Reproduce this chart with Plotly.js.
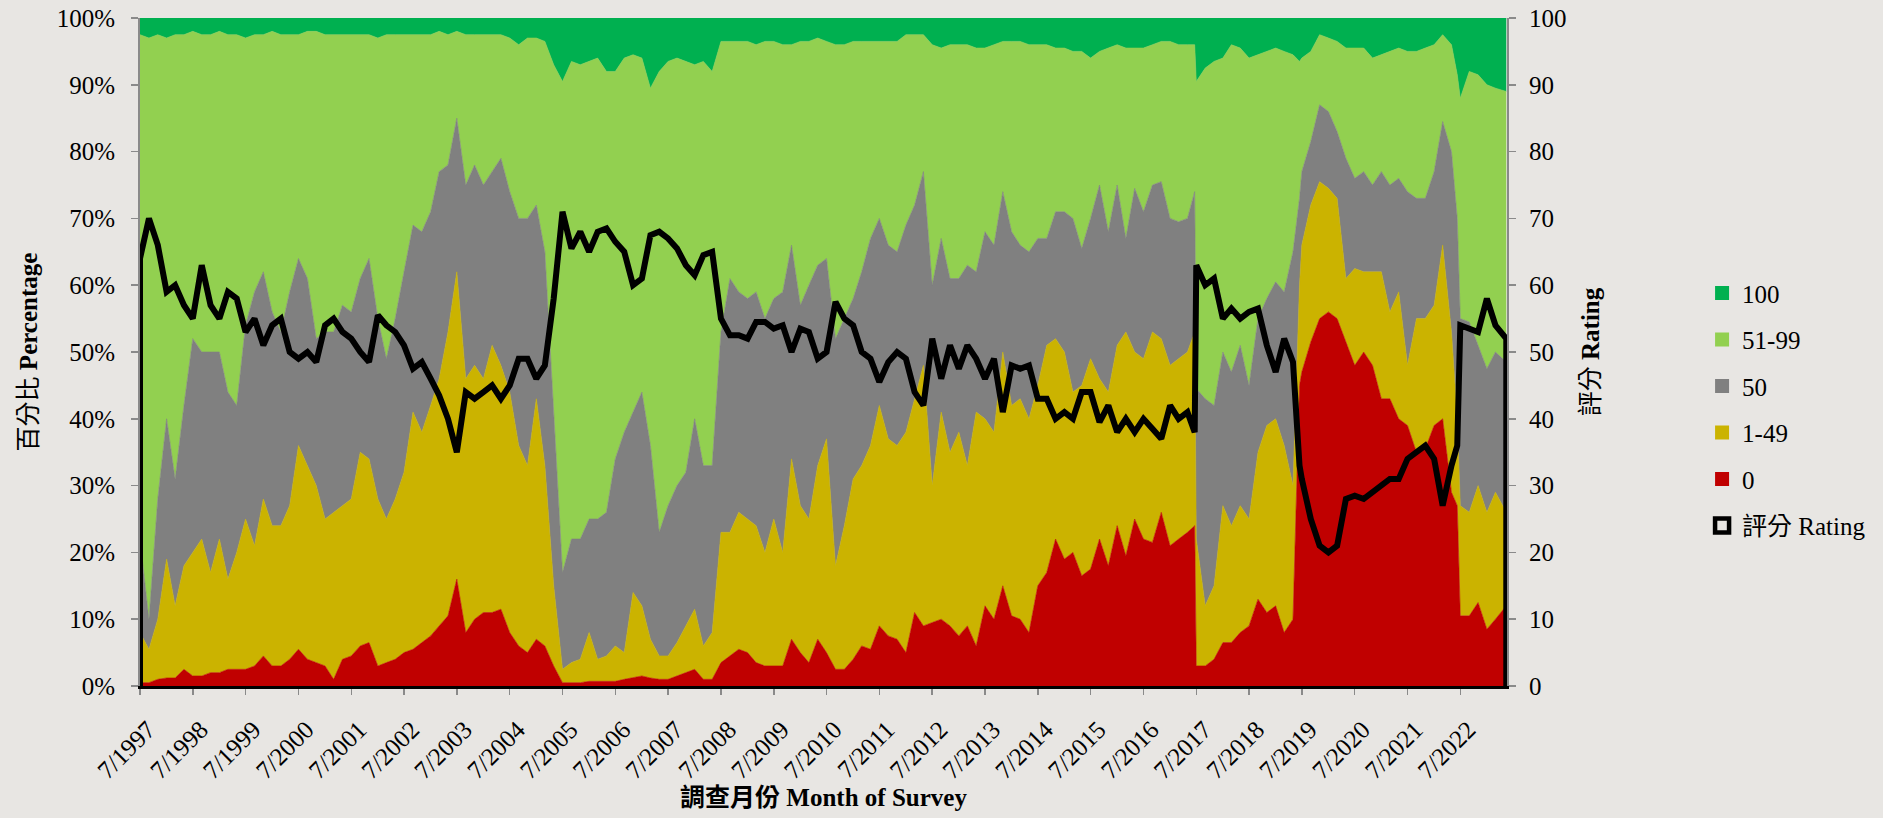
<!DOCTYPE html>
<html>
<head>
<meta charset="utf-8">
<script src="https://cdn.plot.ly/plotly-3.0.1.min.js"></script>
<style>
html,body{margin:0;padding:0;background:#e8e6e3;}
#chart{width:1883px;height:818px;}
</style>
</head>
<body>
<div id="chart"></div>
<script>
// Survey dates
const surveyDates = [
 '1997-07-01','1997-09-01','1997-11-01',
 '1998-01-01','1998-03-01','1998-05-01','1998-07-01','1998-09-01','1998-11-01',
 '1999-01-01','1999-03-01','1999-05-01','1999-07-01','1999-09-01','1999-11-01',
 '2000-01-01','2000-03-01','2000-05-01','2000-07-01','2000-09-01','2000-11-01',
 '2001-01-01','2001-03-01','2001-05-01','2001-07-01','2001-09-01','2001-11-01',
 '2002-01-01','2002-03-01','2002-05-01','2002-07-01','2002-09-01','2002-11-01',
 '2003-01-01','2003-03-01','2003-05-01','2003-07-01','2003-09-01','2003-11-01',
 '2004-01-01','2004-03-01','2004-05-01','2004-07-01','2004-09-01','2004-11-01',
 '2005-01-01','2005-03-01','2005-05-01','2005-07-01','2005-09-01','2005-11-01',
 '2006-01-01','2006-03-01','2006-05-01','2006-07-01','2006-09-01','2006-11-01',
 '2007-01-01','2007-03-01','2007-05-01','2007-07-01','2007-09-01','2007-11-01',
 '2008-01-01','2008-03-01','2008-05-01','2008-07-01','2008-09-01','2008-11-01',
 '2009-01-01','2009-03-01','2009-05-01','2009-07-01','2009-09-01','2009-11-01',
 '2010-01-01','2010-03-01','2010-05-01','2010-07-01','2010-09-01','2010-11-01',
 '2011-01-01','2011-03-01','2011-05-01','2011-07-01','2011-09-01','2011-11-01',
 '2012-01-01','2012-03-01','2012-05-01','2012-07-01','2012-09-01','2012-11-01',
 '2013-01-01','2013-03-01','2013-05-01','2013-07-01','2013-09-01','2013-11-01',
 '2014-01-01','2014-03-01','2014-05-01','2014-07-01','2014-09-01','2014-11-01',
 '2015-01-01','2015-03-01','2015-05-01','2015-07-01','2015-09-01','2015-11-01',
 '2016-01-01','2016-03-01','2016-05-01','2016-07-01','2016-09-01','2016-11-01',
 '2017-01-01','2017-03-01','2017-05-01','2017-06-20','2017-07-01','2017-09-01','2017-11-01',
 '2018-01-01','2018-03-01','2018-05-01','2018-07-01','2018-09-01','2018-11-01',
 '2019-01-01','2019-03-01','2019-05-01','2019-06-15','2019-07-01','2019-09-01','2019-11-01',
 '2020-01-01','2020-03-01','2020-05-01','2020-07-01','2020-09-01','2020-11-01',
 '2021-01-01','2021-03-01','2021-05-01','2021-07-01','2021-09-01','2021-11-01',
 '2022-01-01','2022-03-01','2022-05-01','2022-06-10','2022-07-01','2022-09-01','2022-11-01',
 '2023-01-01','2023-03-01','2023-05-15'
];

// Percentage giving score 0
const share0 = [
 0.5,0.5,1,
 1.2,1.2,2.5,1.5,1.5,2,
 2,2.5,2.5,2.5,3,4.5,
 3,3,4,5.5,4,3.5,
 3,1,4,4.5,6,6.5,
 3,3.5,4,5,5.5,6.5,
 7.5,9,10.5,16,8,10,
 11,11,11.5,8,6,5,
 7,6,3,0.5,0.5,0.5,
 0.7,0.7,0.7,0.7,1,1.3,
 1.5,1.2,1,1,1.5,2,
 2.5,1,1,3.5,4.5,5.5,
 5,3.5,3,3,3,7,
 5,3.5,7,5,2.5,2.5,
 4,6,5.5,9,7.5,7,
 5,11,9,9.5,10,9,
 7.5,9,6,12,10,15,
 10.5,10,8,15,17,22,
 19,20,16.5,17.5,22,18,
 24,19.5,25,22,21.5,26,
 21,22,23,24,3,3,4,
 6.5,6.5,8,9,13,11,
 12,8,10,45,47,51.5,55,
 56,55,51.5,48,50,48,
 43,43,40,39,35,35.5,
 39,40,29,27,10.5,10.5,12.5,
 8.5,10,12
];

// Percentage giving score 1-49
const share1to49 = [
 7.5,5,9,
 17.8,10.8,15.5,18.5,20.5,15,
 20,13.5,17.5,22.5,18,23.5,
 21,21,23,30.5,29,26.5,
 22,25,23,23.5,29,27.5,
 25,21.5,24,27,35.5,31.5,
 34.5,37,42.5,46,38,38,
 35,40,36.5,36,30,28,
 36,27,12,2,3,3.5,
 7.3,3.3,3.8,5.3,4,12.7,
 10.5,5.8,3.5,3.5,5,7,
 9,5,7,19.5,18.5,20.5,
 20,20.5,17,22,17,27,
 22,21.5,26,32,15.5,21.5,
 27,27,30.5,33,29.5,29,
 33,32,39,20.5,31,26,
 30.5,24,35,28,28,35,
 31.5,33,32,30,34,30,
 31,24,28.5,31.5,24,26,
 27,33.5,25,27,31.5,26,
 27,27,27,29,19,9,11,
 20.5,17.5,19,16,22,28,
 28,28,20,15,19,20.5,20.5,
 18.5,18,9.5,14.5,12,14,
 19,13,19,9,20,19.5,
 18,26,24,13,16.5,15.5,17.5,
 17.5,19,14
];

// Percentage giving score 50
const share50 = [
 14,4.5,18,
 21,19,24,32,28,33,
 28,28,22,29,38,34,
 32,29,32,28,28,22,
 28,27,30,28,26,30,
 27,24,27,30,28,30,
 29,31,25,23,29,30,
 29,26,31,30,34,37,
 29,32,25,14.5,18.5,18,
 17,21,21.5,28,33,27,
 32,29,18.5,22.5,23.5,23,
 28.5,27,25,30,38,33,
 33,35,35,33,39,32,
 30,35,30,27,34,31,
 27,29,31,28,29,29,
 31,29,29,30,26,26,
 23,30,21,28,28,24,
 26,23,25,22,16,19,
 21,26,20.5,21,29,24,
 24,14,24.5,22,22,23.5,
 22,20.5,20,21,22.5,31,27,
 23,23,24,20,20,19,
 20.5,23,35,13,11,9.5,11.5,
 11.5,10,18,13.5,15,13,
 15,19,17,26,18,18,
 20,18.5,27,30,28,28.5,21,
 21.5,21,22.5
];

// Percentage giving score 51-99
const share51to99 = [
 75.5,87,69.5,
 57,66.5,55.5,46,47.5,47.5,
 48,53.5,55.5,43,38.5,35.5,
 42,44.5,38.5,33.5,37,46,
 44.5,44.5,40.5,41.5,36.5,33.5,
 42,48.5,42.5,35.5,28.5,29.5,
 26.5,21,19.5,13,22.5,19.5,
 22.5,20.5,18.5,23,26,27,
 25,31.5,53,73.5,71.5,71,
 68.5,69,66,58,56,53.5,
 50,53.5,69,66.5,64,61.5,
 53,60.5,59,43.5,35.5,37.5,
 38.5,37,41.5,38.5,37,30,
 39.5,36.5,34,32.5,44,41,
 38.5,34.5,29.5,26.5,30.5,31.5,
 28.5,25.5,20.5,36,28.5,35,
 35,33,33.5,27.5,30,22.5,
 28.5,30.5,31,29,29,24.5,
 24.5,25,29.5,24,20,27.5,
 21,28.5,21,24.5,21,21,
 26.5,26.5,26,22,46,49.5,51.5,
 44,49,44.5,49,39.5,37,
 35,36,29.5,20.5,17,13.5,10.5,
 11,13.5,16.5,19.5,18.5,19,
 17.5,20,19.5,21,22,22.5,
 19,13,16,21.5,33,37.5,40.5,
 42.5,39.5,40.5
];

// Percentage giving score 100
const share100 = [
 2.5,3,2.5,
 3,2.5,2.5,2,2.5,2.5,
 2,2.5,2.5,3,2.5,2.5,
 2,2.5,2.5,2.5,2,2,
 2.5,2.5,2.5,2.5,2.5,2.5,
 3,2.5,2.5,2.5,2.5,2.5,
 2.5,2,2.5,2,2.5,2.5,
 2.5,2.5,2.5,3,4,3,
 3,3.5,7,9.5,6.5,7,
 6.5,6,8,8,6,5.5,
 6,10.5,8,6.5,6,6.5,
 7,6.5,8,3.5,3.5,3.5,
 3.5,4,3.5,3.5,4,4,
 3.5,3.5,3,3.5,4,4,
 3.5,3.5,3.5,3.5,3.5,3.5,
 2.5,2.5,2.5,4,4.5,4,
 4,4,4.5,4.5,4,3.5,
 3.5,3.5,4,4,4,4.5,
 4.5,5,5,6,5,4.5,
 4,4.5,4.5,4.5,4,3.5,
 3.5,4,4,4,9.5,7.5,6.5,
 6,4,4.5,6,5.5,5,
 4.5,5,5.5,6.5,6,5,2.5,
 3,3.5,4.5,4.5,4.5,6,
 5.5,5,4.5,5,5,4.5,
 4,2.5,4,8.5,12,8,8.5,
 10,10.5,11
];

// Rating (right axis)
const rating = [
 64,70,66,
 59,60,57,55,63,57,
 55,59,58,53,55,51,
 54,55,50,49,50,48.5,
 54,55,53,52,50,48.5,
 55.5,54,53,51,47.5,48.5,
 46,43.5,40,35,44,43,
 44,45,43,45,49,49,
 46,48,58,71,65.5,68,
 65,68,68.5,66.5,65,60,
 61,67.5,68,67,65.5,63,
 61.5,64.5,65,55,52.5,52.5,
 52,54.5,54.5,53.5,54,50,
 53.5,53,49,50,57.5,55,
 54,50,49,45.5,48.5,50,
 49,44,42,52,46,51,
 47.5,51,49,46,49,41,
 48,47.5,48,43,43,40,
 41,40,44,44,39.5,42,
 38,40,38,40,38.5,37,
 42,40,41,38,63,60,61,
 55,56.5,55,56,56.5,51,
 47,52,48.5,33,31,25,21,
 20,21,28,28.5,28,29,
 30,31,31,34,35,36,
 34,27,33,36,54,53.5,53,
 58,54,52
];

const seriesNames = ['0', '1-49', '50', '51-99', '100'];
const seriesColors = ['#c00000', '#cbb300', '#808080', '#92d050', '#00b050'];
const seriesValues = [share0, share1to49, share50, share51to99, share100];
const ratingName = '評分 Rating';

const tickDates = ['1997-07-01','1998-07-01','1999-07-01','2000-07-01','2001-07-01','2002-07-01','2003-07-01','2004-07-01','2005-07-01','2006-07-01','2007-07-01','2008-07-01','2009-07-01','2010-07-01','2011-07-01','2012-07-01','2013-07-01','2014-07-01','2015-07-01','2016-07-01','2017-07-01','2018-07-01','2019-07-01','2020-07-01','2021-07-01','2022-07-01'];
const tickLabels = ['7/1997','7/1998','7/1999','7/2000','7/2001','7/2002','7/2003','7/2004','7/2005','7/2006','7/2007','7/2008','7/2009','7/2010','7/2011','7/2012','7/2013','7/2014','7/2015','7/2016','7/2017','7/2018','7/2019','7/2020','7/2021','7/2022'];

const FONT = "'Liberation Serif', 'Times New Roman', 'Noto Sans CJK TC', serif";
const BG = '#e8e6e3';

const traces = [];
// stacked areas (bottom to top)
for (let i = 0; i < seriesValues.length; i++) {
  traces.push({
    type: 'scatter', mode: 'lines', x: surveyDates, y: seriesValues[i],
    stackgroup: 'pct', name: seriesNames[i],
    line: {width: 0.6, color: seriesColors[i], shape: 'linear'},
    fillcolor: seriesColors[i], showlegend: false, hoverinfo: 'skip'
  });
}
// rating drawn like an Excel bordered series: drops to baseline at both ends
const n = surveyDates.length;
traces.push({
  type: 'scatter', mode: 'lines', yaxis: 'y2',
  x: [surveyDates[0]].concat(surveyDates, [surveyDates[n - 1]]),
  y: [0].concat(rating, [0]),
  line: {color: '#000000', width: 6, shape: 'linear'},
  name: ratingName, showlegend: false, hoverinfo: 'skip'
});
// legend entries (top to bottom: 100 ... 0, rating)
for (let i = seriesValues.length - 1; i >= 0; i--) {
  traces.push({
    type: 'scatter', mode: 'markers', x: [null], y: [null],
    name: seriesNames[i], legendgroup: 'g' + i,
    marker: {symbol: 'square', size: 14, color: seriesColors[i]}
  });
}
traces.push({
  type: 'scatter', mode: 'markers', x: [null], y: [null],
  name: ratingName, legendgroup: 'gr',
  marker: {symbol: 'square-open', size: 14, color: '#000000', line: {width: 4.5, color: '#000000'}}
});

const axisTickColor = '#8a8a8a';
const layout = {
  width: 1883, height: 818,
  paper_bgcolor: BG, plot_bgcolor: BG,
  margin: {l: 140, r: 374, t: 18, b: 132},
  font: {family: FONT, size: 25, color: '#000'},
  showlegend: true,
  legend: {
    x: 1.1427, xanchor: 'left', y: 0.6225, yanchor: 'top',
    traceorder: 'grouped', tracegroupgap: 11,
    font: {family: FONT, size: 25, color: '#000'},
    bgcolor: 'rgba(0,0,0,0)', borderwidth: 0
  },
  xaxis: {
    type: 'date', range: ['1997-07-01', '2023-05-20'],
    tickmode: 'array', tickvals: tickDates, ticktext: tickLabels,
    tickangle: -45, ticks: 'outside', ticklen: 6, tickwidth: 1.5, tickcolor: axisTickColor,
    ticklabelstandoff: 10, ticklabelshift: 8,
    tickfont: {family: FONT, size: 25, color: '#000'},
    showgrid: false, zeroline: false, showline: true, linecolor: '#000', linewidth: 3,
    automargin: false,
    title: {text: '<b>調查月份 Month of Survey</b>', font: {family: FONT, size: 25, color: '#000'}, standoff: 6}
  },
  yaxis: {
    range: [0, 100], tickmode: 'linear', tick0: 0, dtick: 10, ticksuffix: '%',
    ticks: 'outside', ticklen: 7, tickwidth: 1.5, tickcolor: axisTickColor,
    ticklabelstandoff: 11,
    tickfont: {family: FONT, size: 25, color: '#000'},
    showgrid: false, zeroline: false, showline: true, linecolor: axisTickColor, linewidth: 2,
    automargin: false,
    title: {text: '百分比 <b>Percentage</b>', font: {family: FONT, size: 25, color: '#000'}, standoff: 12}
  },
  yaxis2: {
    overlaying: 'y', side: 'right', range: [0, 100], tickmode: 'linear', tick0: 0, dtick: 10,
    ticks: 'outside', ticklen: 7, tickwidth: 1.5, tickcolor: axisTickColor,
    ticklabelstandoff: 8,
    tickfont: {family: FONT, size: 25, color: '#000'},
    showgrid: false, zeroline: false, showline: true, linecolor: axisTickColor, linewidth: 2,
    automargin: false,
    title: {text: '評分 <b>Rating</b>', font: {family: FONT, size: 25, color: '#000'}, standoff: 16}
  }
};

Plotly.newPlot('chart', traces, layout, {displayModeBar: false, staticPlot: true});
</script>
</body>
</html>
